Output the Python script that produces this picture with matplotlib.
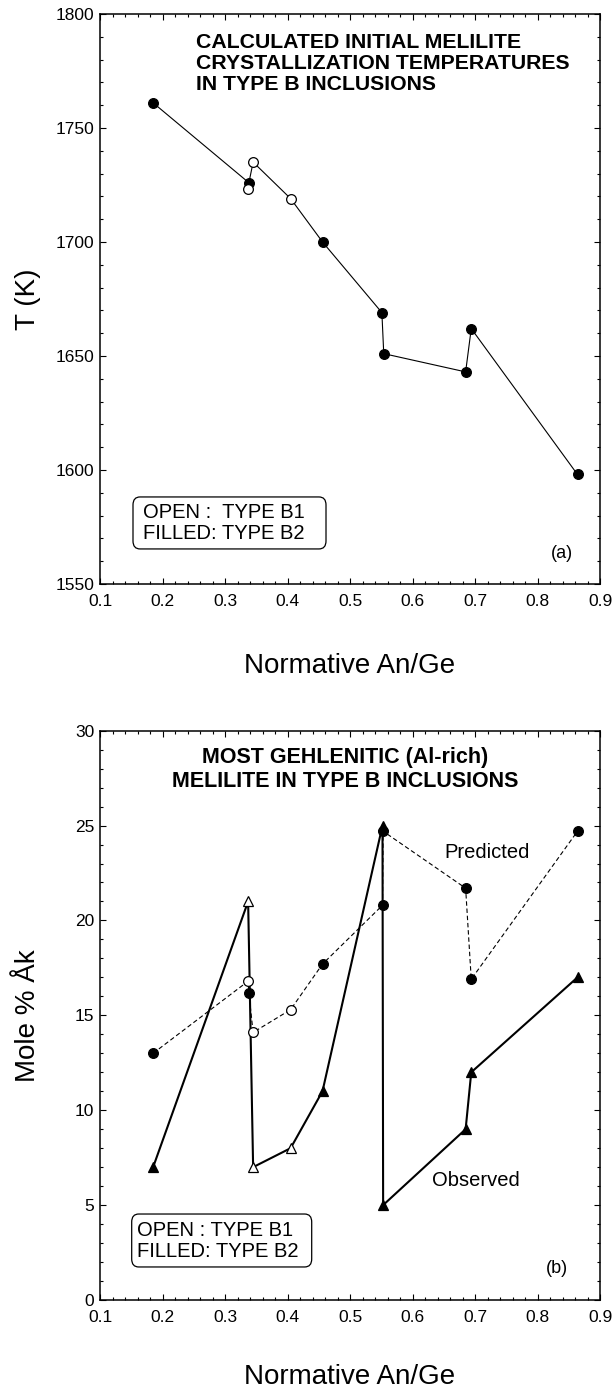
import numpy as np
import matplotlib
matplotlib.use("Agg")
import matplotlib.pyplot as plt
from matplotlib.patches import FancyBboxPatch
from matplotlib.ticker import MultipleLocator

plt.rcParams['font.family'] = ['Liberation Sans', 'DejaVu Sans']

# (a) calculated melilite crystallization temperatures, in line order
x_a = [0.185, 0.338, 0.336, 0.345, 0.405, 0.456, 0.551, 0.554, 0.685, 0.694, 0.864]
t_a = [1761, 1726, 1723, 1735, 1719, 1700, 1669, 1651, 1643, 1662, 1598]
type_a = ['B2', 'B2', 'B1', 'B1', 'B1', 'B2', 'B2', 'B2', 'B2', 'B2', 'B2']

# (b) observed (triangles) and predicted (circles) mole % Ak
x_obs = [0.185, 0.337, 0.345, 0.405, 0.456, 0.552, 0.553, 0.685, 0.694, 0.864]
ak_obs = [7, 21, 7, 8, 11, 25, 5, 9, 12, 17]
type_obs = ['B2', 'B1', 'B1', 'B1', 'B2', 'B2', 'B2', 'B2', 'B2', 'B2']

x_pred = [0.185, 0.337, 0.338, 0.345, 0.405, 0.456, 0.552, 0.553, 0.685, 0.694, 0.864]
ak_pred = [13, 16.8, 16.2, 14.1, 15.3, 17.7, 20.8, 24.7, 21.7, 16.9, 24.7]
type_pred = ['B2', 'B1', 'B2', 'B1', 'B1', 'B2', 'B2', 'B2', 'B2', 'B2', 'B2']

x_ticks = [0.1, 0.2, 0.3, 0.4, 0.5, 0.6, 0.7, 0.8, 0.9]
x_ticklabels = ['0.1', '0.2', '0.3', '0.4', '0.5', '0.6', '0.7', '0.8', '0.9']


def face(t):
    return 'white' if t == 'B1' else 'black'


def style_axes(ax, ymajor, yminor, xlab_y):
    ax.set_xlim(0.1, 0.9)
    ax.set_xticks(x_ticks)
    ax.set_xticklabels(x_ticklabels)
    ax.xaxis.set_minor_locator(MultipleLocator(0.02))
    ax.yaxis.set_major_locator(MultipleLocator(ymajor))
    ax.yaxis.set_minor_locator(MultipleLocator(yminor))
    ax.tick_params(which='both', direction='in', top=True, right=True,
                   width=0.8, labelsize=12.5)
    ax.tick_params(which='major', length=4)
    ax.tick_params(which='minor', length=2)
    ax.tick_params(axis='x', pad=7)
    ax.tick_params(axis='y', pad=4)
    for s in ax.spines.values():
        s.set_linewidth(1.1)
    ax.set_xlabel('Normative An/Ge', fontsize=20, va='baseline')
    ax.xaxis.set_label_coords(0.5, xlab_y)


# last-line baseline is used for multi-line text with va='baseline'
def key_box(ax, x0, y0, x1, y1, tx, ty, text):
    box = FancyBboxPatch((x0, y0), x1 - x0, y1 - y0, transform=ax.transAxes,
                         boxstyle='round,pad=0,rounding_size=0.014',
                         fc='white', ec='black', lw=0.9, zorder=4)
    ax.add_patch(box)
    ax.text(tx, ty, text, transform=ax.transAxes, fontsize=14.5,
            va='baseline', ha='left', linespacing=1.12, zorder=5)


fig = plt.figure(figsize=(6.12, 13.92), dpi=100)
ax1 = fig.add_axes([0.1634, 0.5805, 0.817, 0.4095])
ax2 = fig.add_axes([0.1634, 0.0661, 0.817, 0.4090])

# ---- panel (a)
ax1.plot(x_a, t_a, color='black', lw=0.8, zorder=2)
for x, t, k in zip(x_a, t_a, type_a):
    ax1.plot(x, t, 'o', ms=7, mfc=face(k), mec='black', mew=0.9, zorder=3)
ax1.set_ylim(1550, 1800)
style_axes(ax1, 50, 10, -0.156)
ax1.set_ylabel('T (K)', fontsize=20, va='center')
ax1.yaxis.set_label_coords(-0.144, 0.5)
ax1.text(0.192, 0.8665,
         'CALCULATED INITIAL MELILITE\nCRYSTALLIZATION TEMPERATURES\nIN TYPE B INCLUSIONS',
         transform=ax1.transAxes, fontsize=15.3, fontweight='bold',
         va='baseline', ha='left', linespacing=1.15)
key_box(ax1, 0.066, 0.0614, 0.452, 0.1526, 0.0854, 0.0789,
        'OPEN :  TYPE B1\nFILLED: TYPE B2')
ax1.text(0.924, 0.054, '(a)', transform=ax1.transAxes, fontsize=13,
         ha='center', va='center')

# ---- panel (b)
ax2.plot(x_pred, ak_pred, color='black', lw=0.8, ls=(0, (4, 2.5)), zorder=2)
ax2.plot(x_obs, ak_obs, color='black', lw=1.5, zorder=2)
for x, v, k in zip(x_pred, ak_pred, type_pred):
    ax2.plot(x, v, 'o', ms=7, mfc=face(k), mec='black', mew=0.9, zorder=3)
for x, v, k in zip(x_obs, ak_obs, type_obs):
    ax2.plot(x, v, '^', ms=7.5, mfc=face(k), mec='black', mew=0.9, zorder=3)
ax2.set_ylim(0, 30)
style_axes(ax2, 5, 1, -0.1475)
ax2.set_ylabel('Mole % Åk', fontsize=20, va='center')
ax2.yaxis.set_label_coords(-0.144, 0.5)
ax2.text(0.49, 0.9006,
         'MOST GEHLENITIC (Al-rich)\nMELILITE IN TYPE B INCLUSIONS',
         transform=ax2.transAxes, fontsize=15.5, fontweight='bold',
         va='baseline', ha='center', multialignment='center', linespacing=1.18)
ax2.text(0.719, 23.6, 'Predicted', fontsize=14.5, ha='center', va='center')
ax2.text(0.701, 6.3, 'Observed', fontsize=14.5, ha='center', va='center')
key_box(ax2, 0.0634, 0.058, 0.4234, 0.151, 0.073, 0.0761,
        'OPEN : TYPE B1\nFILLED: TYPE B2')
ax2.text(0.913, 0.0545, '(b)', transform=ax2.transAxes, fontsize=13,
         ha='center', va='center')

fig.savefig('out.png', dpi=100)
